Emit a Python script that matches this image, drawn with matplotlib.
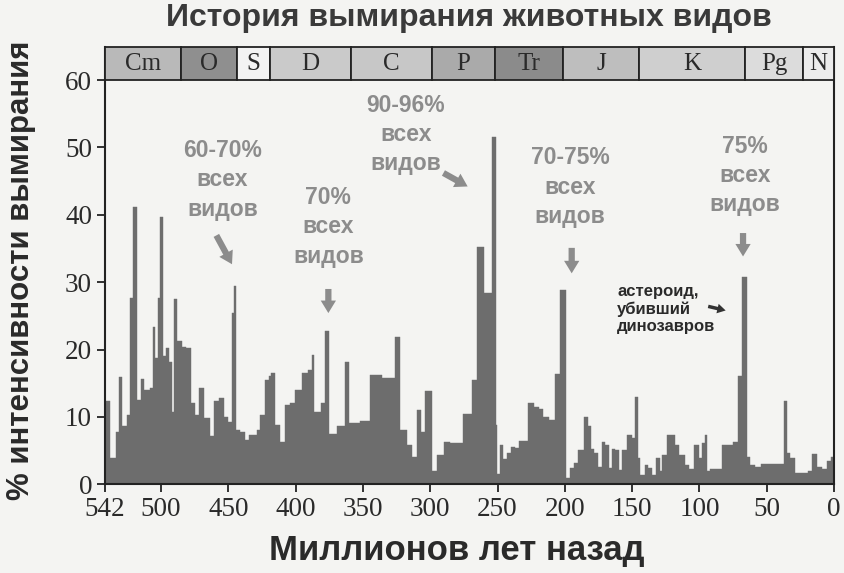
import numpy as np
import matplotlib
matplotlib.use("Agg")
import matplotlib.pyplot as plt

# extinction intensity (%), one value per time bin; bin_start = older edge (Ma)
bin_start = [542, 538, 533.5, 531, 529, 525.5, 523, 520.5, 518, 515, 512.5, 508.5,
             506, 504.5, 502, 500.5, 498.5, 496.5, 494, 492, 490.5, 488, 484.5, 481.5,
             478, 474.5, 471.5, 468, 463.5, 460.5, 457, 453, 450, 447.5, 446, 444,
             441.5, 437.5, 435, 429, 426.5, 422.5, 420, 418, 415, 411.5, 408,
             404, 400.5, 395, 390.5, 388, 386, 381, 378.5, 375, 369.5, 363.5, 360,
             352.5, 345, 336, 326, 322.5, 317.5, 313.8, 310, 306.5, 304, 299, 295,
             290, 285, 275.5, 269, 265.5, 260, 254, 251.5,
             250.5, 248, 246, 243, 240, 237, 234, 227.5, 223, 219.5, 216, 212, 207.5,
             203.5, 199.5, 196.5, 193.5, 190, 186, 183, 180.5, 178, 175, 172.5, 170,
             167.5, 165, 162.5, 160, 157.5, 154, 150, 148, 146, 144, 140.5, 138, 135,
             132,
             129.5, 127.5, 124, 118.5, 115.5, 111, 108, 104, 100.5, 98, 96, 94, 92,
             83.5, 75, 71, 68.5, 65, 62.5, 58.5, 54, 37.5, 35, 33, 29, 19, 16.5, 13,
             9, 5, 2]
intensity = [12.4, 3.9, 7.8, 15.9, 8.6, 10.3, 27.6, 41.1, 12.5, 15.6, 14.0, 14.3,
             23.4, 18.7, 27.6, 39.6, 19.0, 20.2, 18.2, 10.8, 27.5, 21.2, 20.4, 20.2,
             12.0, 10.3, 14.3, 9.8, 7.1, 12.3, 12.8, 10.0, 9.3, 25.4, 29.5, 8.1,
             7.8, 6.6, 7.3, 8.1, 10.3, 15.5, 16.0, 16.5, 8.8, 6.3, 11.8,
             12.0, 14.0, 16.5, 17.0, 19.2, 10.8, 12.0, 22.7, 7.5, 8.6, 18.1,
             9.1, 9.4, 16.2, 15.8, 21.8, 8.0, 5.9, 4.0, 11.0, 7.8, 13.8, 2.0,
             4.3, 6.3, 6.2, 10.5, 15.5, 35.2, 28.4, 51.5, 8.8,
             1.5, 5.8, 3.8, 4.6, 5.5, 5.4, 6.5, 12.0, 11.5, 11.2, 10.0, 9.6, 16.3,
             28.8, 1.0, 2.4, 3.1, 5.1, 10.0, 8.6, 5.3, 4.6, 2.6, 6.3,
             5.8, 2.4, 5.3, 5.1, 2.1, 5.1, 7.3, 6.8, 12.9, 3.9, 1.4, 2.9, 2.4,
             1.4, 3.9,
             1.9, 4.4, 7.3, 5.8, 4.4, 2.9, 2.2, 5.8, 3.9, 6.1, 7.3, 1.9,
             2.3, 5.9, 6.3, 16.0, 30.8, 4.1, 2.9, 2.6, 3.0, 12.3, 4.6, 3.9, 1.7, 1.9, 4.5,
             2.5, 2.2, 3.4, 4.0]

# geological periods
period_names = ["Cm", "O", "S", "D", "C", "P", "Tr", "J", "K", "Pg", "N"]
period_start = [542, 485.4, 443.8, 419.2, 358.9, 298.9, 251.9, 201.3, 145, 66, 23]
period_colors = ["#b9b9b9", "#8f8f8f", "#f3f3f3", "#cacaca", "#c7c7c7", "#aaaaaa",
                 "#8b8b8b", "#bebebe", "#cfcfcf", "#dcdcdc", "#ececec"]

x_ticks = [542, 500, 450, 400, 350, 300, 250, 200, 150, 100, 50, 0]

bg = "#f4f4f2"
ann_color = "#8c8c8c"
sans = "Liberation Sans"
serif = "Liberation Serif"

fig = plt.figure(figsize=(8.45, 5.73), dpi=100, facecolor=bg)
ax = fig.add_axes([0.1237, 0.1548, 0.8633, 0.7632], facecolor=bg)

edges = np.array(bin_start + [0.0])
ax.bar(x=edges[1:], height=intensity, width=edges[:-1] - edges[1:], bottom=0,
       align="edge", color="#6d6d6d", edgecolor="#6d6d6d", linewidth=0.3)

# period strip on top
p_edges = np.array(period_start + [0.0])
ax.bar(x=p_edges[1:], height=4.9, width=p_edges[:-1] - p_edges[1:], bottom=60,
       align="edge", color=period_colors, edgecolor="#222222", linewidth=1.3,
       clip_on=False, zorder=3)
for name, a, b in zip(period_names, p_edges[:-1], p_edges[1:]):
    ax.text((a + b) / 2, 62.4, name, ha="center", va="center", fontsize=18,
            family=serif, color="#2a2a2a", zorder=4)

ax.set_xlim(542, 0)
ax.set_ylim(0, 64.9)
ax.set_xticks(x_ticks)
ax.set_yticks(range(0, 61, 10))
ax.tick_params(direction="out", length=6, width=1.3, color="#222222",
               labelsize=19.5, labelcolor="#2a2a2a", pad=3)
for lbl in ax.get_xticklabels() + ax.get_yticklabels():
    lbl.set_family(serif)
for s in ["left", "bottom", "right"]:
    ax.spines[s].set_linewidth(1.5)
    ax.spines[s].set_color("#222222")
ax.spines["top"].set_visible(False)

# annotations
big_arrow = "simple,head_width=1.1,head_length=0.9,tail_width=0.45"
notes = [
    ("60-70%\nвсех\nвидов", 454.3, 45.2, (459.9, 37.3), (446.3, 32.3)),
    ("70%\nвсех\nвидов", 375.7, 38.2, (375.7, 29.4), (375.7, 25.0)),
    ("90-96%\nвсех\nвидов", 318.0, 51.9, (292.0, 46.4), (270.4, 44.0)),
    ("70-75%\nвсех\nвидов", 196.1, 44.1, (194.9, 35.5), (194.9, 30.9)),
    ("75%\nвсех\nвидов", 66.1, 45.8, (67.6, 37.7), (67.6, 33.4)),
]
for txt, x, y, tail, head in notes:
    ax.text(x, y, txt, ha="center", va="center", fontsize=16.5, family=sans,
            fontweight="bold", color=ann_color, linespacing=1.35)
    ax.annotate("", xy=head, xytext=tail,
                arrowprops=dict(arrowstyle=big_arrow, color=ann_color, lw=0))

ax.text(161.0, 26.0, "астероид,\nубивший\nдинозавров", ha="left", va="center",
        fontsize=12, family=sans, fontweight="bold", color="#2a2a2a", linespacing=1.2)
ax.annotate("", xy=(78.5, 25.7), xytext=(95.5, 26.5),
            arrowprops=dict(arrowstyle="simple,head_width=0.7,head_length=0.6,tail_width=0.25",
                            color="#333333", lw=0))

fig.text(0.555, 1 - 26 / 573, "История вымирания животных видов", ha="center",
         va="baseline", fontsize=23, family=sans, fontweight="bold", color="#3a3a3a")
fig.text(0.025, 0.529, "% интенсивности вымирания", rotation=90, ha="center",
         va="center", fontsize=22.5, family=sans, fontweight="bold", color="#2a2a2a")
fig.text(0.541, 1 - 560 / 573, "Миллионов лет назад", ha="center", va="baseline",
         fontsize=25, family=sans, fontweight="bold", color="#2a2a2a")

fig.savefig("out.png", dpi=100, facecolor=bg)
